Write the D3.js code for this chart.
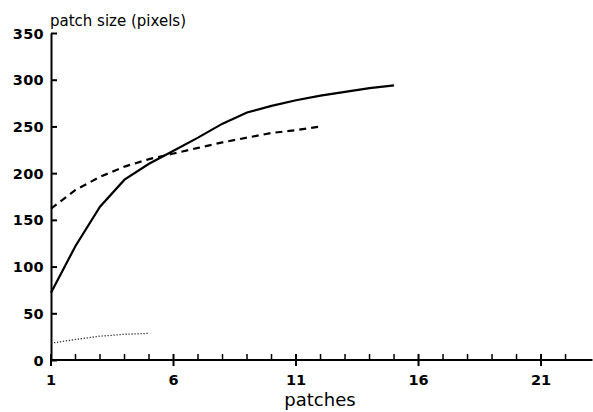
<!DOCTYPE html>
<html>
<head>
<meta charset="utf-8">
<script src="https://cdn.jsdelivr.net/npm/d3@7"></script>
<style>
  html, body { margin: 0; padding: 0; background: #fff; }
  svg { display: block; }
  text { font-family: "DejaVu Sans", sans-serif; fill: #000; }
</style>
</head>
<body>
<svg id="chart" width="593" height="412"></svg>
<script>
const patchesSolid = [1,2,3,4,5,6,7,8,9,10,11,12,13,14,15];
const sizeSolid = [72,122,164,193,210,224,238,253,265,272,278,283,287,291,294];
const patchesDashed = [1,2,3,4,5,6,7,8,9,10,11,12];
const sizeDashed = [162,182,196,207,215,221,227,233,238,243,246,250];
const patchesDotted = [1,2,3,4,5];
const sizeDotted = [18,22,25.5,27.5,28.5];
const yTicks = [0,50,100,150,200,250,300,350];
const xMajorTicks = [1,6,11,16,21];
const xMinorTicks = d3.range(1,23);
const yLabel = "patch size (pixels)";
const xLabel = "patches";

const svg = d3.select("#chart");
const x = d3.scaleLinear().domain([1, 23.1]).range([51, 592.5]);
const y = d3.scaleLinear().domain([0, 350]).range([360, 33]);

// y axis
const yAxis = d3.axisLeft(y).tickValues(yTicks).tickSize(-6).tickPadding(7).tickSizeOuter(0);
const gy = svg.append("g").attr("transform", `translate(${x(1)},0)`).call(yAxis);
gy.select(".domain").attr("stroke-width", 2);
gy.selectAll(".tick line").attr("stroke-width", 2);
gy.selectAll(".tick text").attr("font-size", 14.5).attr("dy", "0.35em").attr("font-weight", "bold").style("letter-spacing", "0.3px");

// x axis with minor (inward) and major (crossing) ticks
const gx = svg.append("g").attr("transform", `translate(0,${y(0)})`);
gx.append("line").attr("x1", x(1)).attr("x2", x(23.1)).attr("stroke", "#000").attr("stroke-width", 2);
gx.selectAll(".minor").data(xMinorTicks.filter(d => !xMajorTicks.includes(d)))
  .enter().append("line").attr("class","minor")
  .attr("x1", d => x(d)).attr("x2", d => x(d)).attr("y1", 0).attr("y2", -6)
  .attr("stroke", "#000").attr("stroke-width", 1.5);
gx.selectAll(".major").data(xMajorTicks)
  .enter().append("line").attr("class","major")
  .attr("x1", d => x(d)).attr("x2", d => x(d)).attr("y1", 6).attr("y2", -6)
  .attr("stroke", "#000").attr("stroke-width", 2);
gx.selectAll(".lbl").data(xMajorTicks)
  .enter().append("text").attr("class","lbl")
  .attr("x", d => x(d)).attr("y", 25).attr("text-anchor", "middle")
  .attr("font-size", 14.5).attr("font-weight", "bold").text(d => d);

// axis titles
svg.append("text").attr("x", 50).attr("y", 26).attr("font-size", 15).text(yLabel);
svg.append("text").attr("x", 320).attr("y", 406).attr("font-size", 18).attr("text-anchor", "middle").text(xLabel);

// lines
const line = d3.line().x(d => x(d[0])).y(d => y(d[1]));
svg.append("path").datum(patchesSolid.map((p,i) => [p, sizeSolid[i]]))
  .attr("d", line).attr("fill", "none").attr("stroke", "#000").attr("stroke-width", 2.2);
svg.append("path").datum(patchesDashed.map((p,i) => [p, sizeDashed[i]]))
  .attr("d", line).attr("fill", "none").attr("stroke", "#000").attr("stroke-width", 2.2)
  .attr("stroke-dasharray", "7,5");
svg.append("path").datum(patchesDotted.map((p,i) => [p, sizeDotted[i]]))
  .attr("d", line).attr("fill", "none").attr("stroke", "#333").attr("stroke-width", 1.3)
  .attr("stroke-dasharray", "1.3,1.7");
</script>
</body>
</html>
